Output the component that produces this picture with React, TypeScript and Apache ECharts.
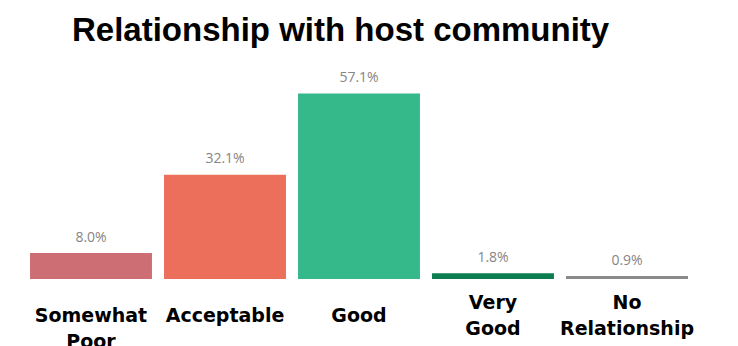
import React, { useEffect, useRef } from "react";
import * as echarts from "echarts";

const titleText = "Relationship with host community";
const categories = ["Somewhat Poor", "Acceptable", "Good", "Very Good", "No Relationship"];
const values = [8.0, 32.1, 57.1, 1.8, 0.9];
const barColors = ["#CD6E75", "#EC6F5B", "#35B98B", "#0C7D4F", "#8A8A8A"];
const axisLabelLines: Record<string, string> = {
  "Somewhat Poor": " \nSomewhat\nPoor",
  "Acceptable": "Acceptable",
  "Good": "Good",
  "Very Good": "Very\nGood",
  "No Relationship": "No\nRelationship",
};

export default function App() {
  const ref = useRef<HTMLDivElement>(null);
  useEffect(() => {
    if (!ref.current) return;
    const chart = echarts.init(ref.current, undefined, { renderer: "svg" });
    chart.setOption({
      animation: false,
      backgroundColor: "#ffffff",
      title: {
        text: titleText,
        left: 67,
        top: 8,
        textStyle: {
          fontFamily: "Liberation Sans",
          fontWeight: "bold",
          fontSize: 33,
          color: "#000000",
        },
      },
      grid: {
        left: 24,
        right: 44,
        top: 84,
        bottom: 67,
        containLabel: false,
        outerBoundsMode: "none",
      },
      xAxis: {
        type: "category",
        data: categories,
        axisLine: { show: false },
        axisTick: { show: false },
        axisLabel: {
          interval: 0,
          margin: 36,
          verticalAlign: "middle",
          lineHeight: 26,
          fontFamily: "DejaVu Sans",
          fontWeight: "bold",
          fontSize: 19,
          color: "#000000",
          hideOverlap: false,
          formatter: (v: string) => axisLabelLines[v] ?? v,
        },
      },
      yAxis: {
        type: "value",
        min: 0,
        max: 60,
        show: false,
      },
      series: [
        {
          type: "bar",
          barCategoryGap: "9%",
          data: values.map((v, i) => ({ value: v, itemStyle: { color: barColors[i] } })),
          label: {
            show: true,
            position: "top",
            distance: 10,
            fontFamily: "Open Sans",
            fontSize: 14,
            color: "#858585",
            formatter: (p: any) => p.value.toFixed(1) + "%",
          },
        },
      ],
    });
    return () => chart.dispose();
  }, []);
  return (
    <div
      ref={ref}
      style={{ position: "absolute", left: 0, top: 0, width: 738, height: 346 }}
    />
  );
}
